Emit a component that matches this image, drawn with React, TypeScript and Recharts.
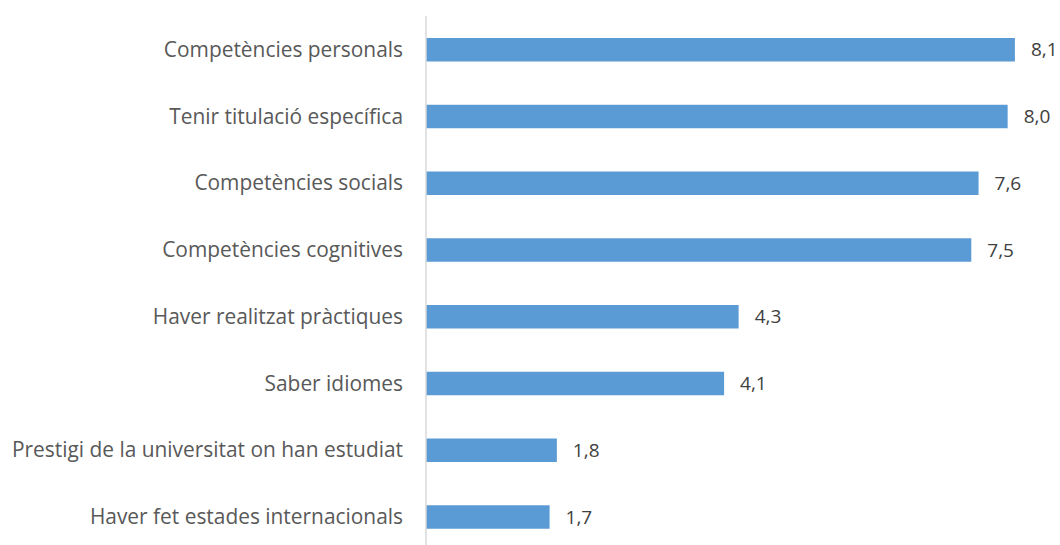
import React from "react";
import { BarChart, Bar, XAxis, YAxis, LabelList } from "recharts";

const categories = [
  "Competències personals",
  "Tenir titulació específica",
  "Competències socials",
  "Competències cognitives",
  "Haver realitzat pràctiques",
  "Saber idiomes",
  "Prestigi de la universitat on han estudiat",
  "Haver fet estades internacionals",
];

const scores = [8.1, 8.0, 7.6, 7.5, 4.3, 4.1, 1.8, 1.7];

const data = categories.map((name, i) => ({ name, value: scores[i] }));

const FONT = "'Open Sans', sans-serif";

const fmt = (v: number) => v.toFixed(1).replace(".", ",");

export default function App() {
  return (
    <div
      style={{
        position: "fixed",
        left: 0,
        top: 0,
        width: 1060,
        height: 545,
        overflow: "hidden",
        background: "#ffffff",
      }}
    >
      <BarChart
        width={1060}
        height={560}
        data={data}
        layout="vertical"
        margin={{ top: 16, right: 16, bottom: 10, left: 0 }}
      >
        <XAxis type="number" domain={[0, 8.5]} hide />
        <YAxis
          type="category"
          dataKey="name"
          width={426}
          axisLine={{ stroke: "#d9d9d9", strokeWidth: 1.5 }}
          tickLine={false}
          tickSize={0}
          tickMargin={23}
          tick={{ fill: "#595959", fontSize: 20.9, fontFamily: FONT }}
        />
        <Bar dataKey="value" fill="#5b9bd5" barSize={23.5} isAnimationActive={false}>
          <LabelList
            dataKey="value"
            position="right"
            offset={16}
            formatter={(v: any) => fmt(Number(v))}
            style={{ fill: "#404040", fontSize: 19, fontFamily: FONT }}
          />
        </Bar>
      </BarChart>
    </div>
  );
}
